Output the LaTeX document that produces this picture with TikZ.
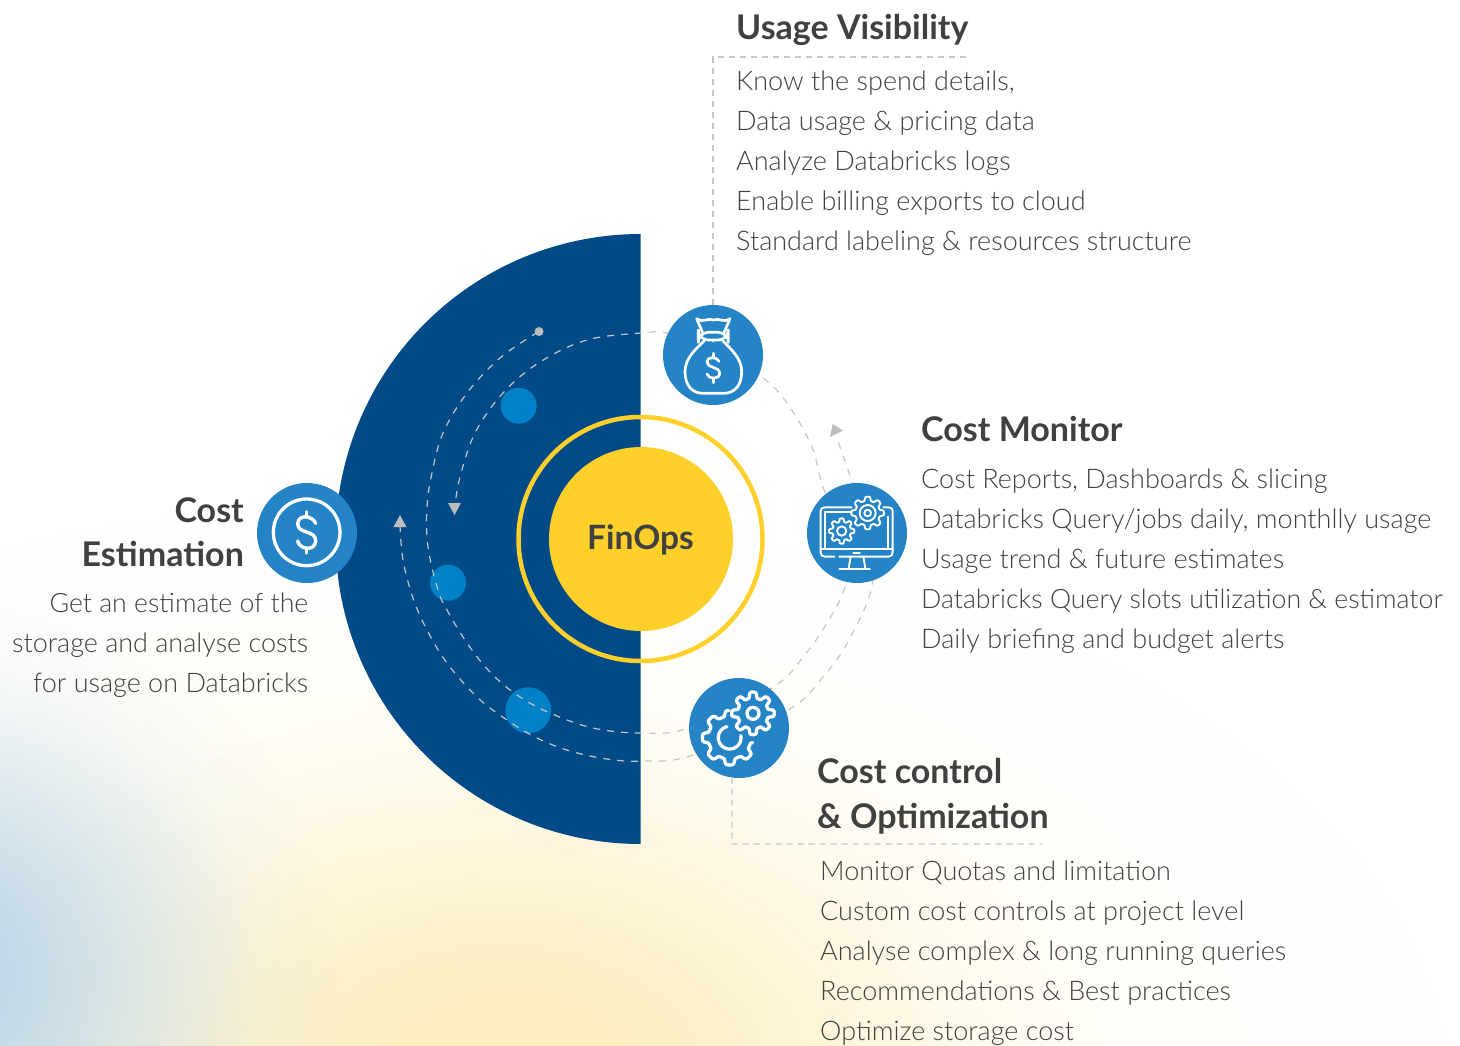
\documentclass[tikz,border=0pt]{standalone}
\usepackage{fontspec}
\setmainfont{Lato}
\newfontfamily\lightface{Lato Light}
\usetikzlibrary{fadings}
\definecolor{navy}{HTML}{004B87}
\definecolor{iconblue}{HTML}{2484C6}
\definecolor{dotblue}{HTML}{0080C6}
\definecolor{sun}{HTML}{FFCF2A}
\definecolor{dashgrey}{HTML}{C6C6C6}
\definecolor{tipgrey}{HTML}{BDBDBD}
\definecolor{inkbold}{HTML}{404040}
\definecolor{inkbody}{HTML}{404040}
\definecolor{creamwash}{HTML}{FFF9E0}
\definecolor{yellowwash}{HTML}{FDEDBE}
\definecolor{bluewash}{HTML}{BCD6E8}
\pgfdeclareradialshading{softgauss}{\pgfpointorigin}{color(0bp)=(white); color(5bp)=(white!90!black); color(10bp)=(white!65!black); color(15bp)=(white!35!black); color(20bp)=(white!10!black); color(25bp)=(black); color(50bp)=(black)}
\pgfdeclarefading{softdisc}{\pgfuseshading{softgauss}}
\newcommand{\gearplot}[7]{plot[domain=#6:#7,samples=140,variable=\t] ({#1+(#3+#4*tanh(2.4*cos(#5*\t)))*cos(\t)},{#2-(#3+#4*tanh(2.4*cos(#5*\t)))*sin(\t)})}
\tikzset{
  bodytext/.style={inner sep=0pt,text=inkbody,font=\lightface\fontsize{27}{30}\selectfont},
  headtext/.style={inner sep=0pt,text=inkbold,font=\fontsize{34}{38}\selectfont\bfseries},
  iconcirc/.style={circle,fill=iconblue,minimum size=100pt,inner sep=0pt},
  smalldot/.style={circle,fill=dotblue,inner sep=0pt},
  guide/.style={draw=dashgrey,line width=1.1pt,dash pattern=on 6pt off 5pt},
  orbit/.style={draw=dashgrey,line width=1.2pt,dash pattern=on 7pt off 7pt},
  glyph/.style={draw=white,line join=round,line cap=round},
  tip/.style={fill=tipgrey},
  zoomed/.style={shift={#1},x=0.33333pt,y=-0.33333pt},
}
\begin{document}
\begin{tikzpicture}[x=1pt,y=-1pt]
\useasboundingbox (0,0) rectangle (1460,1045);
\fill[white] (0,0) rectangle (1460,1045);
% background wash
\begin{scope}
\clip (0,0) rectangle (1460,1045);
\fill[creamwash,path fading=softdisc] (400,1100) ellipse[x radius=1050,y radius=600];
\fill[yellowwash,path fading=softdisc] (510,1080) ellipse[x radius=560,y radius=380];
\fill[bluewash,path fading=softdisc] (-70,975) ellipse[x radius=410,y radius=390];
\end{scope}
% half disc
\fill[navy] plot[domain=90:270,samples=180,variable=\t] ({640.6+305*cos(\t)},{539-305*sin(\t)}) -- cycle;
% ring and core
\draw[sun,line width=4.5pt] (640.5,539) circle[radius=122];
\node[circle,fill=sun,minimum size=184pt,inner sep=0pt] (core) at (641,539) {};
\node[inner sep=0pt,anchor=base,text=inkbold,font=\fontsize{33.5}{38}\selectfont\bfseries] (coretext) at (640.5,549.5) {FinOps};
% small dots
\node[smalldot,minimum size=36pt] (d1) at (518.7,405.7) {};
\node[smalldot,minimum size=36pt] (d2) at (448,582.7) {};
\node[smalldot,minimum size=46pt] (d3) at (528.3,710.3) {};
% orbits
\draw[orbit] plot[smooth,tension=0.6] coordinates {(538,332) (500,358) (467,393) (443,433) (432,473) (427,507) (428,547) (438,590) (447,610) (467,643) (490,672) (517,695) (550,713) (593,728) (641,733) (688,728) (772,688) (807,652) (830,618) (845,587) (855,540) (825,492) (812,447) (787,403) (762,377) (713,345) (667,333) (641,333) (587,340) (540,362) (503,393) (475,433) (460,477) (455,505)};
\draw[orbit] plot[smooth,tension=0.6] coordinates {(400,525) (403,560) (413,598) (427,630) (447,663) (477,697) (507,720) (537,738) (570,751) (607,759) (641,761) (693,755) (788,710) (823,677) (850,638) (873,580) (862,520) (852,482) (840,447) (837,437)};
% arrowheads
\fill[tip] (454.5,515) -- (448,503) -- (461,503) -- cycle;
\fill[tip] (400,515) -- (393.5,527) -- (406.5,527) -- cycle;
\fill[tip] (832.7,424) -- (830,437) -- (843,430.5) -- cycle;
\fill[tipgrey] (539,331.5) circle[radius=4.5];
% leader lines
\node[iconcirc] (bag) at (713,355) {};
\node[iconcirc] (mon) at (857,533) {};
\node[iconcirc] (cog) at (739,728) {};
\node[iconcirc] (usd) at (307,533) {};
\coordinate (uc1) at (713,57);
\coordinate (uc2) at (970,57);
\coordinate (cc1) at (732,844);
\coordinate (cc2) at (1042,844);
\draw[guide] (bag.north) -- (uc1) -- (uc2);
\draw[guide] (cog.-98) -- (cc1) -- (cc2);
% dollar icon
\begin{scope}[zoomed={(250,475)}]
\draw[glyph,line width=3.3pt] (170,172) circle[radius=100];
\draw[glyph,line width=3.4pt] (197,145) .. controls (190,124) and (145,114) .. (143,146) .. controls (143,178) and (198,164) .. (197,198) .. controls (196,230) and (148,224) .. (143,198);
\draw[glyph,line width=3.4pt] (170,110) -- (170,122) (170,222) -- (170,234);
\end{scope}
% bag icon
\begin{scope}[zoomed={(655,300)}]
\draw[glyph,line width=2.7pt] (142,96) -- (125,56) .. controls (145,70) and (160,52) .. (175,60) .. controls (190,52) and (205,70) .. (225,56) -- (208,96);
\draw[glyph,line width=2.7pt,fill=iconblue,rounded corners=10pt] (130,97) rectangle (220,120);
\draw[glyph,line width=2.7pt] (148,122) .. controls (120,150) and (90,175) .. (90,215) .. controls (90,255) and (110,280) .. (145,280) -- (205,280) .. controls (240,280) and (260,255) .. (260,215) .. controls (260,175) and (230,150) .. (203,122);
\fill[white] (175,122) circle[radius=5];
\draw[glyph,line width=2.7pt] (192,184) .. controls (186,170) and (156,168) .. (156,186) .. controls (156,206) and (194,198) .. (194,220) .. controls (194,240) and (160,238) .. (156,222);
\draw[glyph,line width=2.7pt] (175,160) -- (175,170) (175,238) -- (175,248);
\end{scope}
% monitor icon
\begin{scope}[zoomed={(800,475)}]
\draw[glyph,line width=1.9pt] (103,245) -- (75,245) .. controls (66,245) and (62,240) .. (62,232) -- (62,108) .. controls (62,101) and (66,97) .. (75,97) -- (155,97);
\draw[glyph,line width=1.9pt] (250,97) -- (265,97) .. controls (274,97) and (278,101) .. (278,108) -- (278,232) .. controls (278,240) and (274,245) .. (265,245) -- (118,245);
\draw[glyph,line width=1.9pt] (75,222) -- (75,110) -- (155,110);
\draw[glyph,line width=1.9pt] (265,125) -- (265,222);
\draw[glyph,line width=1.9pt] (62,222) -- (278,222);
\draw[glyph,line width=1.9pt] (160,233) -- (180,233);
\draw[glyph,line width=1.9pt] (152,245) -- (146,280) (190,245) -- (196,280) (118,282) -- (210,282);
\draw[glyph,line width=1.9pt,fill=iconblue] \gearplot{203}{114}{43}{6}{8}{0}{360} -- cycle;
\draw[glyph,line width=1.9pt] (203,114) circle[radius=24] (203,114) circle[radius=10];
\draw[glyph,line width=1.9pt,fill=iconblue] \gearplot{125}{168}{33}{5}{8}{0}{360} -- cycle;
\draw[glyph,line width=1.9pt] (125,168) circle[radius=14];
\end{scope}
% gears icon
\begin{scope}[zoomed={(682,670)}]
\draw[glyph,line width=3.3pt] \gearplot{143}{203}{73}{9}{8}{92}{348};
\draw[glyph,line width=3.3pt] plot[domain=104:370,samples=60,variable=\t] ({143+34*cos(\t)},{203-34*sin(\t)});
\draw[glyph,line width=3.3pt] \gearplot{213}{130}{55}{9}{8}{0}{360} -- cycle;
\draw[glyph,line width=3.3pt] (213,130) circle[radius=18];
\end{scope}
% usage visibility
\node[headtext,anchor=base west] (uh) at (736,39.5) {Usage Visibility};
\node[bodytext,anchor=base west] (u1) at (736,90) {Know the spend details,};
\node[bodytext,anchor=base west] (u2) at (736,130) {Data usage \& pricing data};
\node[bodytext,anchor=base west] (u3) at (736,170) {Analyze Databricks logs};
\node[bodytext,anchor=base west] (u4) at (736,210) {Enable billing exports to cloud};
\node[bodytext,anchor=base west] (u5) at (736,250) {Standard labeling \& resources structure};
% cost monitor
\node[headtext,anchor=base west] (mh) at (921,441.5) {Cost Monitor};
\node[bodytext,anchor=base west] (m1) at (921,488) {Cost Reports, Dashboards \& slicing};
\node[bodytext,anchor=base west] (m2) at (921,528) {Databricks Query/jobs daily, monthlly usage};
\node[bodytext,anchor=base west] (m3) at (921,568) {Usage trend \& future estimates};
\node[bodytext,anchor=base west,font=\lightface\fontsize{26.7}{30}\selectfont] (m4) at (921,608) {Databricks Query slots utilization \& estimator};
\node[bodytext,anchor=base west] (m5) at (921,648) {Daily briefing and budget alerts};
% cost control
\node[headtext,anchor=base west] (ch1) at (817,783) {Cost control};
\node[headtext,anchor=base west] (ch2) at (817,828) {\& Optimization};
\node[bodytext,anchor=base west] (c1) at (820,880) {Monitor Quotas and limitation};
\node[bodytext,anchor=base west] (c2) at (820,920) {Custom cost controls at project level};
\node[bodytext,anchor=base west] (c3) at (820,960) {Analyse complex \& long running queries};
\node[bodytext,anchor=base west] (c4) at (820,1000) {Recommendations \& Best practices};
\node[bodytext,anchor=base west] (c5) at (820,1040) {Optimize storage cost};
% cost estimation
\node[headtext,anchor=base east] (eh1) at (244,522) {Cost};
\node[headtext,anchor=base east] (eh2) at (244,566) {Estimation};
\node[bodytext,anchor=base east,font=\lightface\fontsize{26.7}{30}\selectfont] (e1) at (308.5,612) {Get an estimate of the};
\node[bodytext,anchor=base east] (e2) at (308.5,652) {storage and analyse costs};
\node[bodytext,anchor=base east] (e3) at (308.5,692) {for usage on Databricks};
\end{tikzpicture}
\end{document}
